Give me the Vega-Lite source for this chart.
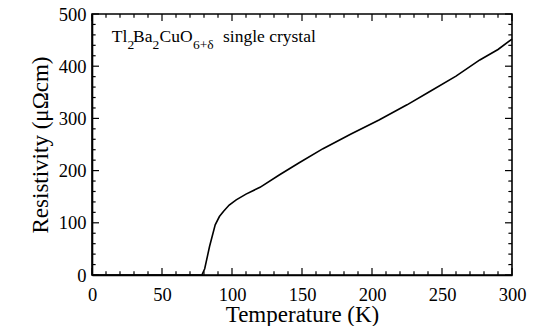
{
  "$schema": "https://vega.github.io/schema/vega-lite/v6.json",
  "width": 420,
  "height": 261,
  "autosize": "none",
  "padding": {"left": 92, "top": 14, "right": 23, "bottom": 51},
  "background": "white",
  "config": {
    "view": {"stroke": "black", "strokeWidth": 1.6},
    "font": "Liberation Serif",
    "axis": {
      "grid": false,
      "ticks": false,
      "domainColor": "black",
      "domainWidth": 1.6,
      "labelFont": "Liberation Serif",
      "labelFontSize": 18.5,
      "labelColor": "black",
      "labelOverlap": false,
      "labelFlush": false,
      "titleFont": "Liberation Serif",
      "titleFontSize": 23,
      "titleFontWeight": "normal",
      "titleColor": "black"
    }
  },
  "datasets": {
    "curve": [
      {"T": 0, "R": 0},
      {"T": 40, "R": 0},
      {"T": 78.5, "R": 0},
      {"T": 80.5, "R": 12},
      {"T": 84, "R": 55},
      {"T": 88, "R": 96},
      {"T": 91, "R": 112},
      {"T": 94, "R": 122},
      {"T": 98, "R": 134},
      {"T": 103, "R": 144},
      {"T": 110, "R": 155},
      {"T": 120, "R": 168},
      {"T": 134, "R": 192},
      {"T": 148, "R": 215},
      {"T": 165, "R": 242},
      {"T": 185, "R": 270},
      {"T": 205, "R": 297},
      {"T": 225, "R": 326},
      {"T": 241, "R": 351},
      {"T": 260, "R": 381},
      {"T": 277, "R": 412},
      {"T": 290, "R": 432},
      {"T": 300, "R": 452}
    ],
    "xMajor": [{"T": 0}, {"T": 50}, {"T": 100}, {"T": 150}, {"T": 200}, {"T": 250}, {"T": 300}],
    "xMinor": [{"T": 10}, {"T": 20}, {"T": 30}, {"T": 40}, {"T": 60}, {"T": 70}, {"T": 80}, {"T": 90}, {"T": 110}, {"T": 120}, {"T": 130}, {"T": 140}, {"T": 160}, {"T": 170}, {"T": 180}, {"T": 190}, {"T": 210}, {"T": 220}, {"T": 230}, {"T": 240}, {"T": 260}, {"T": 270}, {"T": 280}, {"T": 290}],
    "yMajor": [{"R": 0}, {"R": 100}, {"R": 200}, {"R": 300}, {"R": 400}, {"R": 500}],
    "yMinor": [{"R": 20}, {"R": 40}, {"R": 60}, {"R": 80}, {"R": 120}, {"R": 140}, {"R": 160}, {"R": 180}, {"R": 220}, {"R": 240}, {"R": 260}, {"R": 280}, {"R": 320}, {"R": 340}, {"R": 360}, {"R": 380}, {"R": 420}, {"R": 440}, {"R": 460}, {"R": 480}],
    "labelMain": [
      {"T": 14.1, "R": 446, "text": "Tl"},
      {"T": 29.3, "R": 446, "text": "Ba"},
      {"T": 48.2, "R": 446, "text": "CuO"},
      {"T": 93.6, "R": 446, "text": "single crystal"}
    ],
    "labelSub": [
      {"T": 25.4, "R": 432, "text": "2"},
      {"T": 43.2, "R": 432, "text": "2"},
      {"T": 72.1, "R": 432, "text": "6+δ"}
    ]
  },
  "layer": [
    {
      "data": {"name": "curve"},
      "mark": {"type": "line", "color": "black", "strokeWidth": 1.6},
      "encoding": {
        "x": {
          "field": "T", "type": "quantitative",
          "scale": {"domain": [0, 300], "nice": false},
          "axis": {
            "orient": "bottom",
            "title": "Temperature (K)",
            "values": [0, 50, 100, 150, 200, 250, 300],
            "labelPadding": 10,
            "titlePadding": 0
          }
        },
        "y": {
          "field": "R", "type": "quantitative",
          "scale": {"domain": [0, 500], "nice": false},
          "axis": {
            "orient": "left",
            "title": "Resistivity (μΩcm)",
            "values": [0, 100, 200, 300, 400, 500],
            "labelPadding": 6,
            "titlePadding": 6
          }
        }
      }
    },
    {
      "data": {"name": "xMajor"},
      "mark": {"type": "rule", "color": "black", "strokeWidth": 1.2},
      "encoding": {
        "x": {"field": "T", "type": "quantitative"},
        "y": {"datum": 0, "type": "quantitative"},
        "y2": {"datum": 13.4}
      }
    },
    {
      "data": {"name": "xMajor"},
      "mark": {"type": "rule", "color": "black", "strokeWidth": 1.2},
      "encoding": {
        "x": {"field": "T", "type": "quantitative"},
        "y": {"datum": 500, "type": "quantitative"},
        "y2": {"datum": 486.6}
      }
    },
    {
      "data": {"name": "xMinor"},
      "mark": {"type": "rule", "color": "black", "strokeWidth": 1.2},
      "encoding": {
        "x": {"field": "T", "type": "quantitative"},
        "y": {"datum": 0, "type": "quantitative"},
        "y2": {"datum": 7}
      }
    },
    {
      "data": {"name": "xMinor"},
      "mark": {"type": "rule", "color": "black", "strokeWidth": 1.2},
      "encoding": {
        "x": {"field": "T", "type": "quantitative"},
        "y": {"datum": 500, "type": "quantitative"},
        "y2": {"datum": 493}
      }
    },
    {
      "data": {"name": "yMajor"},
      "mark": {"type": "rule", "color": "black", "strokeWidth": 1.2},
      "encoding": {
        "y": {"field": "R", "type": "quantitative"},
        "x": {"datum": 0, "type": "quantitative"},
        "x2": {"datum": 5}
      }
    },
    {
      "data": {"name": "yMajor"},
      "mark": {"type": "rule", "color": "black", "strokeWidth": 1.2},
      "encoding": {
        "y": {"field": "R", "type": "quantitative"},
        "x": {"datum": 300, "type": "quantitative"},
        "x2": {"datum": 295}
      }
    },
    {
      "data": {"name": "yMinor"},
      "mark": {"type": "rule", "color": "black", "strokeWidth": 1.2},
      "encoding": {
        "y": {"field": "R", "type": "quantitative"},
        "x": {"datum": 0, "type": "quantitative"},
        "x2": {"datum": 2.6}
      }
    },
    {
      "data": {"name": "yMinor"},
      "mark": {"type": "rule", "color": "black", "strokeWidth": 1.2},
      "encoding": {
        "y": {"field": "R", "type": "quantitative"},
        "x": {"datum": 300, "type": "quantitative"},
        "x2": {"datum": 297.4}
      }
    },
    {
      "data": {"name": "labelMain"},
      "mark": {"type": "text", "align": "left", "baseline": "alphabetic", "font": "Liberation Serif", "fontSize": 17.5, "color": "black"},
      "encoding": {
        "x": {"field": "T", "type": "quantitative"},
        "y": {"field": "R", "type": "quantitative"},
        "text": {"field": "text"}
      }
    },
    {
      "data": {"name": "labelSub"},
      "mark": {"type": "text", "align": "left", "baseline": "alphabetic", "font": "Liberation Serif", "fontSize": 13.5, "color": "black"},
      "encoding": {
        "x": {"field": "T", "type": "quantitative"},
        "y": {"field": "R", "type": "quantitative"},
        "text": {"field": "text"}
      }
    }
  ]
}
